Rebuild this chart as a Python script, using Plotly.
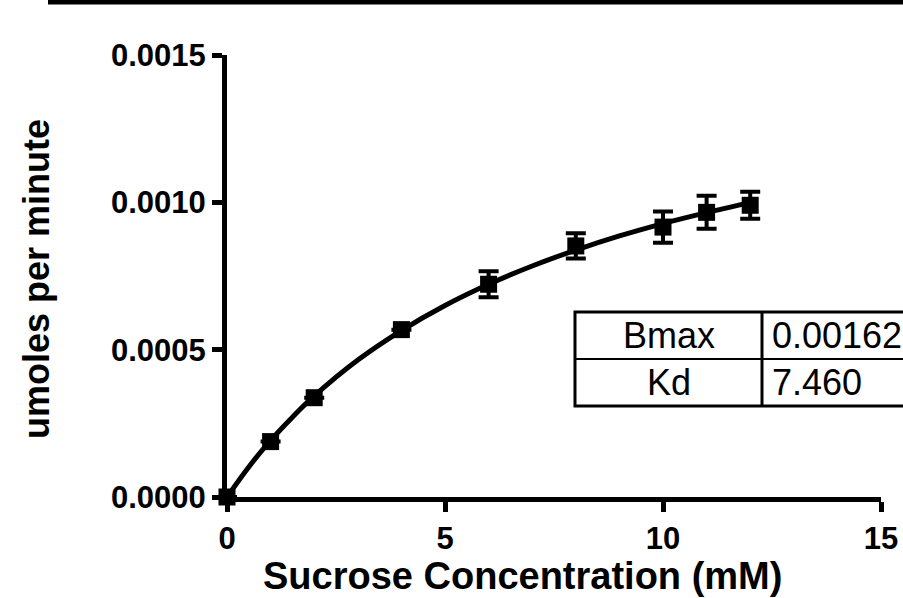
import plotly.graph_objects as go

# Data
conc = [0, 1, 2, 4, 6, 8, 10, 11, 12]
rate = [0.0, 0.000188, 0.000337, 0.000568, 0.000722, 0.000852, 0.000916, 0.000966, 0.000990]
rate_err = [0.0, 0.0, 0.0, 0.0, 0.000044, 0.000043, 0.000053, 0.000056, 0.000046]

fit_x = [0, 0.5, 1, 1.5, 2, 3, 4, 5, 6, 7, 8, 9, 10, 11, 12]
fit_y = [0.0, 0.000102, 0.000192, 0.000271, 0.000343, 0.000465, 0.000565, 0.000650,
         0.000722, 0.000784, 0.000838, 0.000886, 0.000928, 0.000965, 0.000999]

x_ticks = [0, 5, 10, 15]
y_ticks = [0.0, 0.0005, 0.0010, 0.0015]

table_rows = [("Bmax", "0.00162"), ("Kd", "7.460")]

FONT = "Arial, Liberation Sans, sans-serif"

fig = go.Figure()
fig.add_trace(go.Scatter(x=fit_x, y=fit_y, mode="lines", line=dict(color="black", width=5, shape="spline"),
                         cliponaxis=False, showlegend=False, hoverinfo="skip"))
fig.add_trace(go.Scatter(x=conc, y=rate, mode="markers",
                         marker=dict(symbol="square", size=17, color="black"),
                         error_y=dict(type="data", array=rate_err, visible=True, color="black",
                                      thickness=4, width=10),
                         cliponaxis=False, showlegend=False))

L, R, T, B = 227, 22, 55, 101
W, H = 903, 598
pw, ph = W - L - R, H - T - B

def px(x):
    return (x - L) / pw

def py(y):
    return (H - B - y) / ph

tick_font = dict(family=FONT, size=31, color="black", weight="bold")

fig.update_layout(
    width=W, height=H,
    margin=dict(l=L, r=R, t=T, b=B, autoexpand=False),
    plot_bgcolor="white", paper_bgcolor="white",
    xaxis=dict(range=[0, 15], tickvals=x_ticks, ticktext=[str(v) for v in x_ticks], automargin=False,
               showgrid=False, zeroline=False, showline=True, linecolor="black", linewidth=5,
               ticks="outside", ticklen=10, tickwidth=5, tickcolor="black", tickfont=tick_font),
    yaxis=dict(range=[0, 0.0015], tickvals=y_ticks, ticktext=["%.4f" % v for v in y_ticks], automargin=False,
               showgrid=False, zeroline=False, showline=True, linecolor="black", linewidth=5,
               ticks="outside", ticklen=10, tickwidth=5, tickcolor="black", tickfont=tick_font),
)

# axis titles
fig.add_annotation(xref="paper", yref="paper", x=px(522), y=py(576), text="<b>Sucrose Concentration (mM)</b>",
                   showarrow=False, font=dict(family=FONT, size=38, color="black"),
                   xanchor="center", yanchor="middle")
fig.add_annotation(xref="paper", yref="paper", x=px(36), y=py(279), text="<b>umoles per minute</b>",
                   showarrow=False, font=dict(family=FONT, size=36, color="black"), textangle=-90,
                   xanchor="center", yanchor="middle")

# top border line (cropped frame)
fig.add_shape(type="line", xref="paper", yref="paper", x0=px(48), x1=px(910), y0=py(2), y1=py(2),
              line=dict(color="black", width=5))

# parameter table
tl, tr, tt, tm, tb, tc = 575, 920, 312, 359, 406, 762
fig.add_shape(type="rect", xref="paper", yref="paper", x0=px(tl), x1=px(tr), y0=py(tb), y1=py(tt),
              line=dict(color="black", width=3), fillcolor="white", layer="above")
fig.add_shape(type="line", xref="paper", yref="paper", x0=px(tl), x1=px(tr), y0=py(tm), y1=py(tm),
              line=dict(color="black", width=2))
fig.add_shape(type="line", xref="paper", yref="paper", x0=px(tc), x1=px(tc), y0=py(tb), y1=py(tt),
              line=dict(color="black", width=3))
tfont = dict(family=FONT, size=36, color="black")
for i, (name, val) in enumerate(table_rows):
    yc = (tt + tm) / 2 if i == 0 else (tm + tb) / 2
    fig.add_annotation(xref="paper", yref="paper", x=px((tl + tc) / 2), y=py(yc), text=name,
                       showarrow=False, font=tfont, xanchor="center", yanchor="middle")
    fig.add_annotation(xref="paper", yref="paper", x=px(770), y=py(yc), text=val,
                       showarrow=False, font=tfont, xanchor="left", yanchor="middle")

fig.write_html("out.html", config={"displayModeBar": False},
               post_script="document.body.style.margin='0';document.body.style.overflow='hidden';")
